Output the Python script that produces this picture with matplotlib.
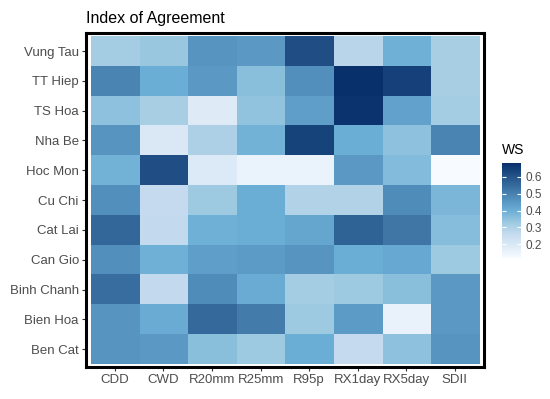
import numpy as np
import matplotlib
matplotlib.use("Agg")
import matplotlib.pyplot as plt
from matplotlib.colors import LinearSegmentedColormap

plt.rcParams['font.family'] = ['Liberation Sans', 'DejaVu Sans']

# stations, top to bottom as drawn
stations = ["Vung Tau", "TT Hiep", "TS Hoa", "Nha Be", "Hoc Mon", "Cu Chi",
            "Cat Lai", "Can Gio", "Binh Chanh", "Bien Hoa", "Ben Cat"]
indices = ["CDD", "CWD", "R20mm", "R25mm", "R95p", "RX1day", "RX5day", "SDII"]

# WS values, one row per station
vung_tau = [0.316, 0.333, 0.456, 0.445, 0.613, 0.282, 0.394, 0.310]
tt_hiep = [0.490, 0.400, 0.445, 0.355, 0.467, 0.680, 0.641, 0.310]
ts_hoa = [0.350, 0.310, 0.187, 0.344, 0.434, 0.669, 0.428, 0.316]
nha_be = [0.456, 0.198, 0.300, 0.389, 0.635, 0.400, 0.350, 0.490]
hoc_mon = [0.389, 0.613, 0.193, 0.154, 0.154, 0.445, 0.366, 0.120]
cu_chi = [0.467, 0.260, 0.327, 0.400, 0.294, 0.294, 0.473, 0.378]
cat_lai = [0.557, 0.266, 0.394, 0.400, 0.417, 0.568, 0.523, 0.360]
can_gio = [0.467, 0.394, 0.434, 0.440, 0.456, 0.400, 0.411, 0.327]
binh_chanh = [0.540, 0.266, 0.473, 0.406, 0.316, 0.327, 0.355, 0.445]
bien_hoa = [0.456, 0.406, 0.551, 0.512, 0.327, 0.440, 0.159, 0.445]
ben_cat = [0.456, 0.445, 0.355, 0.327, 0.400, 0.260, 0.350, 0.456]

ws = np.array([vung_tau, tt_hiep, ts_hoa, nha_be, hoc_mon, cu_chi,
               cat_lai, can_gio, binh_chanh, bien_hoa, ben_cat])

legend_ticks = [0.2, 0.3, 0.4, 0.5, 0.6]

cmap = LinearSegmentedColormap.from_list(
    "ws_blues",
    [(0.0, "#f7fbff"), (0.12, "#deebf7"), (0.25, "#c6dbef"),
     (0.37, "#9ecae1"), (0.5, "#6baed6"), (1.0, "#08306b")])

fig = plt.figure(figsize=(5.5, 3.99), dpi=100)
ax = fig.add_axes([0.156, 0.080, 0.724, 0.837])

im = ax.imshow(ws, cmap=cmap, vmin=ws.min(), vmax=ws.max(),
               aspect='auto', interpolation='nearest')
ax.set_xlim(-0.6, len(indices) - 0.4)
ax.set_ylim(len(stations) - 0.4, -0.6)

ax.set_xticks(range(len(indices)))
ax.set_xticklabels(indices)
ax.set_yticks(range(len(stations)))
ax.set_yticklabels(stations)
ax.tick_params(colors='#333333', labelcolor='#4d4d4d', labelsize=9.5,
               length=3, width=0.8, pad=2)
for s in ax.spines.values():
    s.set_linewidth(2.2)
    s.set_color('black')

fig.text(0.156, 0.935, "Index of Agreement", fontsize=11.5, color='black',
         ha='left', va='bottom')

# legend
cax = fig.add_axes([502 / 550, 1 - 258 / 399, 19 / 550, 95 / 399])
cb = fig.colorbar(im, cax=cax, ticks=legend_ticks)
cb.outline.set_visible(False)
cax.yaxis.set_ticks_position('both')
cax.tick_params(which='both', direction='in', color='white', length=3,
                width=0.8, labelsize=8.5, labelcolor='#4d4d4d', pad=3)
cax.yaxis.set_label_position('right')
cax.tick_params(labelleft=False, labelright=True)
fig.text(502 / 550, 1 - 157 / 399, "WS", fontsize=10, color='black',
         ha='left', va='bottom')

fig.savefig("out.png", dpi=100)
